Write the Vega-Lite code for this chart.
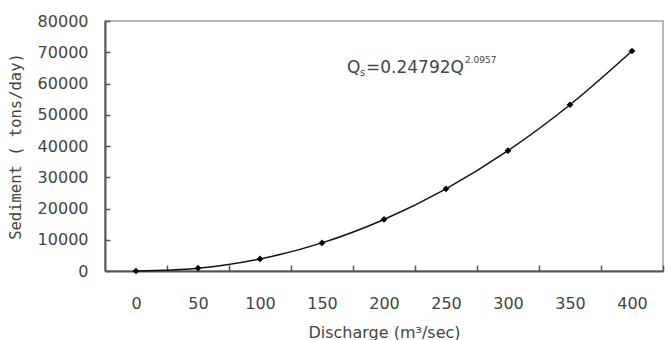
{
  "$schema": "https://vega.github.io/schema/vega-lite/v6.json",
  "width": 558,
  "height": 250,
  "autosize": "none",
  "padding": {"left": 105, "top": 21, "right": 6, "bottom": 69},
  "background": "white",
  "config": {
    "view": {"stroke": "#a0a0a0", "strokeWidth": 1.5},
    "axis": {
      "labelFont": "DejaVu Sans",
      "labelFontSize": 16,
      "labelColor": "#444444",
      "titleFont": "DejaVu Sans",
      "titleFontSize": 16,
      "titleFontWeight": "normal",
      "titleColor": "#444444",
      "domainColor": "#555555",
      "domainWidth": 2,
      "tickColor": "#555555",
      "tickWidth": 1.5,
      "grid": false
    }
  },
  "data": {
    "values": [
      {"Q": 0, "S": 0},
      {"Q": 50, "S": 900},
      {"Q": 100, "S": 3850},
      {"Q": 150, "S": 9000},
      {"Q": 200, "S": 16500},
      {"Q": 250, "S": 26300},
      {"Q": 300, "S": 38500},
      {"Q": 350, "S": 53200},
      {"Q": 400, "S": 70400}
    ]
  },
  "encoding": {
    "x": {
      "field": "Q",
      "type": "ordinal",
      "scale": {"type": "point", "padding": 0.5},
      "axis": {
        "title": "Discharge (m³/sec)",
        "labelAngle": 0,
        "tickSize": -6,
        "tickOffset": 31,
        "labelOffset": -31,
        "labelPadding": 30,
        "titlePadding": 13
      }
    },
    "y": {
      "field": "S",
      "type": "quantitative",
      "scale": {"domain": [0, 80000], "nice": false},
      "axis": {
        "title": "Sediment ( tons/day)",
        "titleFont": "DejaVu Sans Mono",
        "titleFontSize": 15.5,
        "values": [0, 10000, 20000, 30000, 40000, 50000, 60000, 70000, 80000],
        "format": "d",
        "tickSize": -5,
        "labelPadding": 22,
        "titlePadding": 14
      }
    }
  },
  "layer": [
    {
      "mark": {"type": "line", "color": "#111111", "strokeWidth": 1.5, "interpolate": "monotone"}
    },
    {
      "mark": {"type": "point", "shape": "diamond", "filled": true, "color": "#000000", "opacity": 1, "size": 45}
    },
    {
      "transform": [{"filter": "datum.Q == 150"}],
      "mark": {"type": "text", "font": "DejaVu Sans", "fontSize": 17, "color": "#444444", "align": "left", "baseline": "middle", "dx": 25},
      "encoding": {"y": {"datum": 65000}, "text": {"value": "Q"}}
    },
    {
      "transform": [{"filter": "datum.Q == 150"}],
      "mark": {"type": "text", "font": "DejaVu Sans", "fontSize": 10, "color": "#444444", "align": "left", "baseline": "middle", "dx": 38, "dy": 5},
      "encoding": {"y": {"datum": 65000}, "text": {"value": "s"}}
    },
    {
      "transform": [{"filter": "datum.Q == 150"}],
      "mark": {"type": "text", "font": "DejaVu Sans", "fontSize": 17, "color": "#444444", "align": "left", "baseline": "middle", "dx": 44},
      "encoding": {"y": {"datum": 65000}, "text": {"value": "=0.24792Q"}}
    },
    {
      "transform": [{"filter": "datum.Q == 150"}],
      "mark": {"type": "text", "font": "DejaVu Sans", "fontSize": 9, "color": "#444444", "align": "left", "baseline": "middle", "dx": 143, "dy": -8},
      "encoding": {"y": {"datum": 65000}, "text": {"value": "2.0957"}}
    }
  ]
}
